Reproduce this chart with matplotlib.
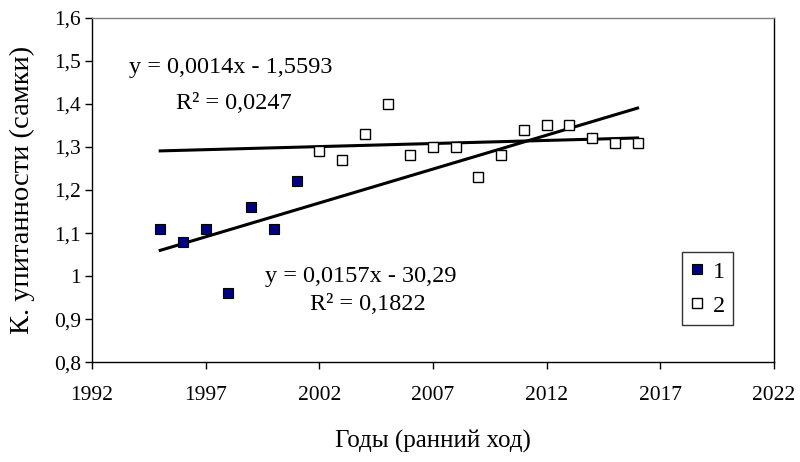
import numpy as np
import matplotlib
matplotlib.use("Agg")
import matplotlib.pyplot as plt

plt.rcParams['font.family'] = ['Liberation Serif', 'DejaVu Serif']

years1 = [1995, 1996, 1997, 1998, 1999, 2000, 2001]
vals1 = [1.11, 1.08, 1.11, 0.96, 1.16, 1.11, 1.22]
years2 = [2002, 2003, 2004, 2005, 2006, 2007, 2008, 2009, 2010, 2011, 2012, 2013, 2014, 2015, 2016]
vals2 = [1.29, 1.27, 1.33, 1.40, 1.28, 1.30, 1.30, 1.23, 1.28, 1.34, 1.35, 1.35, 1.32, 1.31, 1.31]
labels = ["1", "2"]
trend_range = [1995, 2016]
eq1 = "y = 0,0157x - 30,29"
r2_1 = "R² = 0,1822"
eq2 = "y = 0,0014x - 1,5593"
r2_2 = "R² = 0,0247"
xticks = [1992, 1997, 2002, 2007, 2012, 2017, 2022]
yticks = [0.8, 0.9, 1.0, 1.1, 1.2, 1.3, 1.4, 1.5, 1.6]
ytick_labels = ["0,8", "0,9", "1", "1,1", "1,2", "1,3", "1,4", "1,5", "1,6"]

fig = plt.figure(figsize=(8, 4.62), dpi=100)
ax = fig.add_axes([0.115, 0.2154, 0.8525, 0.7467])

fs = 15.5
fs_ann = 17.5
fs_xlab = 18
fs_ylab = 20.5

ax.plot(years1, vals1, linestyle='none', marker='s', markersize=6.5,
        markerfacecolor='#000080', markeredgecolor='black', markeredgewidth=0.8, label=labels[0], zorder=3)
ax.plot(years2, vals2, linestyle='none', marker='s', markersize=6.5,
        markerfacecolor='white', markeredgecolor='black', markeredgewidth=1.0, label=labels[1], zorder=3)

tx = np.array(trend_range, dtype=float)
c1 = np.polyfit(years1, vals1, 1)
c2 = np.polyfit(years2, vals2, 1)
ax.plot(tx, np.polyval(c1, tx), color='black', lw=2.2, zorder=2)
ax.plot(tx, np.polyval(c2, tx), color='black', lw=2.2, zorder=2)

ax.set_xlim(1992, 2022)
ax.set_ylim(0.8, 1.6)
ax.set_xticks(xticks)
ax.set_xticklabels([str(t) for t in xticks])
ax.set_yticks(yticks)
ax.set_yticklabels(ytick_labels)
ax.tick_params(axis='both', direction='out', length=5, width=1, labelsize=fs, color='black')
ax.tick_params(axis='x', pad=12)
ax.tick_params(axis='y', pad=3)

for s in ['left', 'bottom', 'right']:
    ax.spines[s].set_color('black')
    ax.spines[s].set_linewidth(1)
ax.spines['top'].set_color('#808080')
ax.spines['top'].set_linewidth(1)

def px(xp, yp):
    return ((xp - 92) / 682.0, (362.5 - yp) / 345.0)

ax.set_xlabel("Годы (ранний ход)", fontsize=fs_xlab, labelpad=18)
ax.set_ylabel("К. упитанности (самки)", fontsize=fs_ylab, va='center')
ax.yaxis.set_label_coords(*px(22, 190))

ax.text(*px(231, 67), eq2, transform=ax.transAxes, ha='center', va='center', fontsize=fs_ann)
ax.text(*px(234, 103), r2_2, transform=ax.transAxes, ha='center', va='center', fontsize=fs_ann)
ax.text(*px(361, 277), eq1, transform=ax.transAxes, ha='center', va='center', fontsize=fs_ann)
ax.text(*px(368, 305), r2_1, transform=ax.transAxes, ha='center', va='center', fontsize=fs_ann)

leg = ax.legend(loc='upper left', bbox_to_anchor=px(682, 252), fontsize=fs_ann,
                frameon=True, fancybox=False, handlelength=0.5, handletextpad=0.4,
                labelspacing=0.5, borderpad=0.35, borderaxespad=0)
leg.get_frame().set_edgecolor('black')
leg.get_frame().set_linewidth(1)

fig.savefig("out.png", dpi=100)
